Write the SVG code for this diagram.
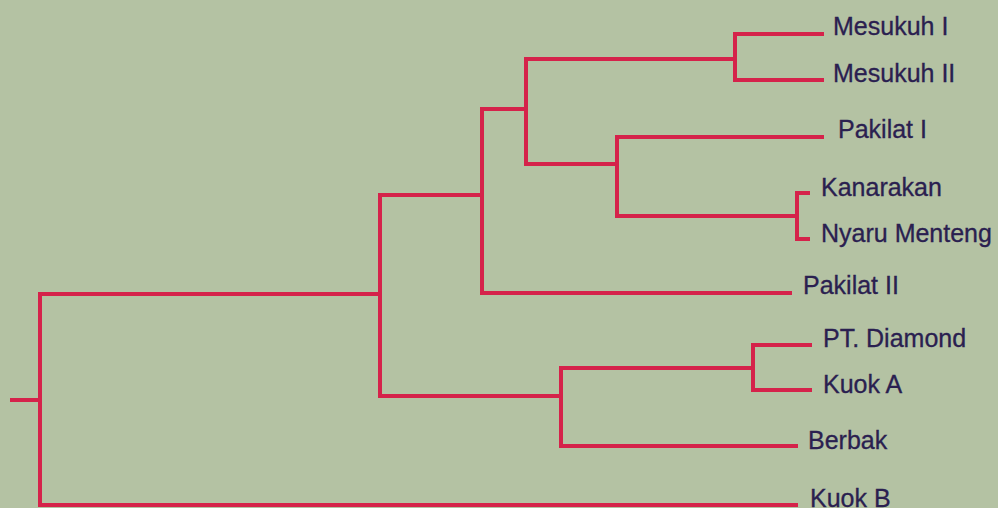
<svg xmlns="http://www.w3.org/2000/svg" width="998" height="508" viewBox="0 0 998 508">
<style>
.e{fill:none;stroke:#d5224a;stroke-width:4;stroke-linecap:square;stroke-linejoin:miter}
.t{font-family:"Liberation Sans",Arial,sans-serif;font-size:25px;fill:#2a2050;stroke:#2a2050;stroke-width:0.3}
</style>
<rect width="998" height="508" fill="#b4c2a3"/>
<g id="connectors">
<path class="e" d="M12,400H40"/>
<path class="e" d="M822,34H735V80H822"/>
<path class="e" d="M735,59H526V164H617"/>
<path class="e" d="M822,137H617V216H797"/>
<path class="e" d="M808,193H797V239H808"/>
<path class="e" d="M526,109H482V293H790"/>
<path class="e" d="M482,195H380V396H561"/>
<path class="e" d="M810,345H753V390H810"/>
<path class="e" d="M753,368H561V446H796"/>
<path class="e" d="M380,294H40V505H796"/>
</g>
<g id="n-mesukuh1"><text class="t" x="833" y="35">Mesukuh I</text></g>
<g id="n-mesukuh2"><text class="t" x="833" y="82">Mesukuh II</text></g>
<g id="n-pakilat1"><text class="t" x="838" y="138">Pakilat I</text></g>
<g id="n-kanarakan"><text class="t" x="821" y="196">Kanarakan</text></g>
<g id="n-nyaru"><text class="t" x="821" y="242">Nyaru Menteng</text></g>
<g id="n-pakilat2"><text class="t" x="803" y="294">Pakilat II</text></g>
<g id="n-ptdiamond"><text class="t" x="823" y="347">PT. Diamond</text></g>
<g id="n-kuoka"><text class="t" x="823" y="393">Kuok A</text></g>
<g id="n-berbak"><text class="t" x="808" y="449">Berbak</text></g>
<g id="n-kuokb"><text class="t" x="810" y="507">Kuok B</text></g>
</svg>
